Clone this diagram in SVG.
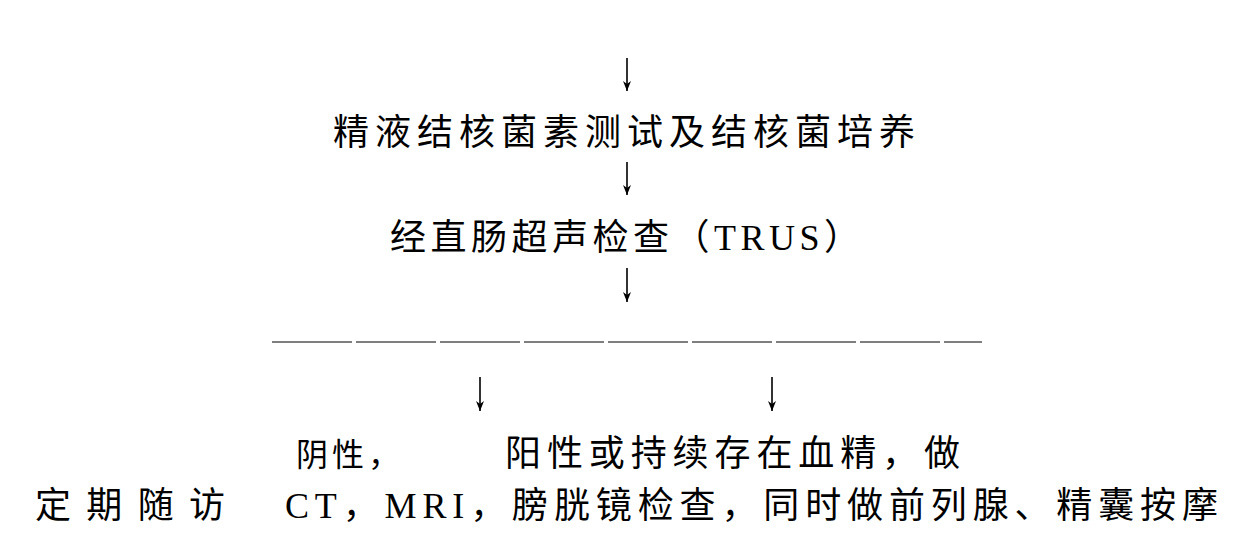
<svg xmlns="http://www.w3.org/2000/svg" width="1238" height="537" viewBox="0 0 1238 537">
<defs>
<marker id="ah" markerWidth="10" markerHeight="8" refX="10" refY="4" orient="auto" markerUnits="userSpaceOnUse" viewBox="0 0 10 8"><path d="M0,0 L10,4 L0,8 L3,4 Z" fill="#000"/></marker>
<style>
text{font-family:"Liberation Serif","Noto Sans CJK SC",serif;font-size:36px;fill:#000}
.ar{stroke:#000;stroke-width:1.6;marker-end:url(#ah)}
</style>
</defs>
<rect width="1238" height="537" fill="#fff"/>
<g id="connectors">
<line class="ar" x1="627" y1="58" x2="627" y2="91"/>
<line class="ar" x1="627" y1="162" x2="627" y2="195"/>
<line class="ar" x1="627" y1="268" x2="627" y2="302"/>
<line x1="272" y1="342" x2="982" y2="342" stroke="#000" stroke-width="1.2" stroke-dasharray="80 4"/>
<line class="ar" x1="480" y1="377" x2="480" y2="411"/>
<line class="ar" x1="772" y1="377" x2="772" y2="411"/>
</g>
<g id="n1"><text x="333" y="145" textLength="582" lengthAdjust="spacing">精液结核菌素测试及结核菌培养</text></g>
<g id="n2"><text x="390" y="250" textLength="470" lengthAdjust="spacing">经直肠超声检查（TRUS）</text></g>
<g id="n3"><text x="296" y="466" style="font-size:32px" textLength="104" lengthAdjust="spacing">阴性，</text><text x="35" y="518" textLength="190" lengthAdjust="spacing">定期随访</text></g>
<g id="n4"><text x="505" y="466" textLength="455" lengthAdjust="spacing">阳性或持续存在血精，做</text><text x="285" y="518" textLength="933" lengthAdjust="spacing">CT，MRI，膀胱镜检查，同时做前列腺、精囊按摩</text></g>
</svg>
